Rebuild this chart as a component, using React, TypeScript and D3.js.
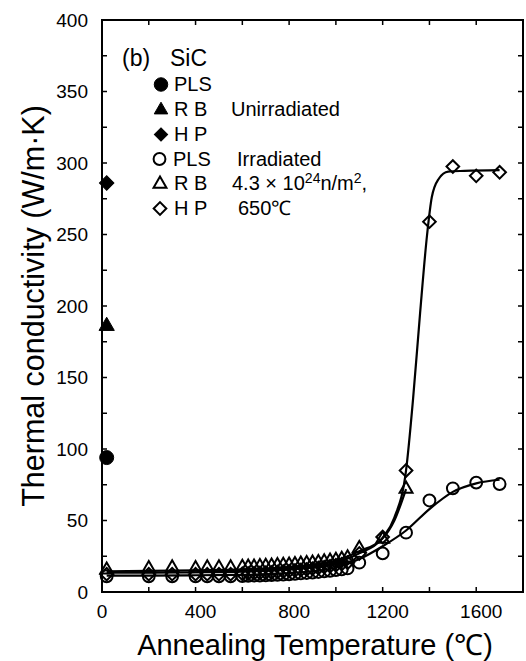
import React from 'react';
import * as d3 from 'd3';

// ---------- data ----------
const xTickLabels = [0, 400, 800, 1200, 1600];
const xMinorTicks = [0, 200, 400, 600, 800, 1000, 1200, 1400, 1600, 1800];
const yTickLabels = [0, 50, 100, 150, 200, 250, 300, 350, 400];
const yMinorTicks = [0, 25, 50, 75, 100, 125, 150, 175, 200, 225, 250, 275, 300, 325, 350, 375, 400];

// Unirradiated (room temperature)
const unirradTemp = 20;
const unirradPLS = 94;
const unirradRB = 186;
const unirradHP = 286;

// Irradiated, after annealing
const lowTemps = [20, 200, 300, 400, 450, 500, 550, 600, 625, 650, 675, 700, 725, 750, 775, 800, 825, 850, 875, 900, 925, 950, 975, 1000, 1025, 1050];

const plsTemps = [...lowTemps, 1100, 1200, 1300, 1400, 1500, 1600, 1700];
const plsValues = [11, 11, 11, 11, 11, 11, 11, 11.2, 11.3, 11.4, 11.5, 11.6, 11.8, 12, 12.2, 12.4, 12.7, 13, 13.3, 13.6, 14, 14.4, 14.8, 15.3, 15.8, 16.5, 20.5, 27, 41.5, 64, 72.5, 76.5, 75.5];

const rbTemps = [...lowTemps, 1100, 1200, 1300];
const rbValues = [15.5, 16.5, 17, 16.5, 17, 17, 17, 17.3, 17.5, 17.5, 17.8, 18, 18.2, 18.5, 18.8, 19, 19.3, 19.6, 20, 20.3, 20.7, 21.2, 21.7, 22.3, 23, 24, 30.5, 37, 72];

const hpTemps = [...lowTemps, 1100, 1200, 1300, 1400, 1500, 1600, 1700];
const hpValues = [12.5, 12.5, 12.5, 12.5, 12.5, 12.5, 12.5, 12.8, 13, 13.1, 13.3, 13.5, 13.7, 14, 14.3, 14.6, 15, 15.4, 15.8, 16.3, 16.8, 17.4, 18, 18.7, 19.5, 20.5, 27, 38.5, 85, 259, 297.5, 291, 293.5];

// Fitted curves
const plsCurveT = [20, 200, 400, 600, 700, 800, 900, 1000, 1100, 1200, 1300, 1400, 1500, 1600, 1700];
const plsCurveV = [11.5, 11.5, 11.7, 12, 12.5, 13.3, 14.5, 17, 23, 32, 43, 58, 70, 76, 78.5];
const rbCurveT = [20, 200, 400, 600, 800, 900, 1000, 1100, 1200, 1250, 1300];
const rbCurveV = [14.5, 14.8, 15.2, 15.8, 17.5, 19, 22, 28.5, 37.5, 50, 72];
const hpCurveT = [20, 200, 400, 600, 800, 900, 1000, 1100, 1200, 1250, 1300, 1330, 1360, 1390, 1410, 1440, 1480, 1550, 1700];
const hpCurveV = [13.5, 13.5, 13.8, 14.3, 15.8, 17.5, 20.5, 27, 38, 52, 85, 135, 195, 250, 276, 289, 294, 294.5, 295];

const FONT = "'Liberation Sans', Arial, Helvetica, sans-serif";

const W = 526;
const H = 661;
const L = 102, R = 523, T = 20, B = 592;

const x = d3.scaleLinear().domain([0, 1800]).range([L, R]);
const y = d3.scaleLinear().domain([0, 400]).range([B, T]);

const circlePath = (area: number) => d3.symbol().type(d3.symbolCircle).size(area)() as string;
const triPath = (area: number) => d3.symbol().type(d3.symbolTriangle).size(area)() as string;
const sqPath = (area: number) => d3.symbol().type(d3.symbolSquare).size(area)() as string;

type Kind = 'circle' | 'triangle' | 'diamond';

function Marker({ kind, cx, cy, filled, scale = 1 }: { kind: Kind; cx: number; cy: number; filled: boolean; scale?: number }) {
  let d = '';
  let rot = 0;
  if (kind === 'circle') d = circlePath(110 * scale);
  else if (kind === 'triangle') d = triPath(72 * scale);
  else { d = sqPath(80 * scale); rot = 45; }
  return (
    <path
      d={d}
      transform={`translate(${cx},${cy}) rotate(${rot})`}
      fill={filled ? '#000' : 'none'}
      stroke="#000"
      strokeWidth={filled ? 1 : 2}
    />
  );
}

export default function App() {
  const line = d3.line<[number, number]>().x(d => x(d[0])).y(d => y(d[1])).curve(d3.curveMonotoneX);
  const zip = (a: number[], b: number[]) => a.map((t, i) => [t, b[i]] as [number, number]);

  const legendRows = [91, 116, 141, 165.5, 190, 215];
  const legendSymX = 161;
  const legendTextX = 174;

  return (
    <svg width={W} height={H} style={{ position: 'absolute', left: 0, top: 0, background: '#fff' }} fontFamily={FONT}>
      <rect x={0} y={0} width={W} height={H} fill="#fff" />

      {/* curves */}
      <path d={line(zip(plsCurveT, plsCurveV)) as string} fill="none" stroke="#000" strokeWidth={2.2} />
      <path d={line(zip(rbCurveT, rbCurveV)) as string} fill="none" stroke="#000" strokeWidth={2.2} />
      <path d={line(zip(hpCurveT, hpCurveV)) as string} fill="none" stroke="#000" strokeWidth={2.2} />

      {/* irradiated markers */}
      {rbTemps.map((t, i) => <Marker key={'rb' + i} kind="triangle" cx={x(t)} cy={y(rbValues[i])} filled={false} />)}
      {hpTemps.map((t, i) => <Marker key={'hp' + i} kind="diamond" cx={x(t)} cy={y(hpValues[i])} filled={false} />)}
      {plsTemps.map((t, i) => <Marker key={'pls' + i} kind="circle" cx={x(t)} cy={y(plsValues[i])} filled={false} />)}

      {/* unirradiated markers */}
      <Marker kind="circle" cx={x(unirradTemp)} cy={y(unirradPLS)} filled scale={1.4} />
      <Marker kind="triangle" cx={x(unirradTemp)} cy={y(unirradRB)} filled scale={1.4} />
      <Marker kind="diamond" cx={x(unirradTemp)} cy={y(unirradHP)} filled scale={1.3} />

      {/* frame */}
      <rect x={L} y={T} width={R - L} height={B - T} fill="none" stroke="#000" strokeWidth={2} />

      {/* ticks */}
      {xMinorTicks.map(t => (
        <g key={'xt' + t}>
          <line x1={x(t)} x2={x(t)} y1={B} y2={B - 5} stroke="#000" strokeWidth={1.5} />
          <line x1={x(t)} x2={x(t)} y1={T} y2={T + 5} stroke="#000" strokeWidth={1.5} />
        </g>
      ))}
      {yMinorTicks.map(v => (
        <g key={'yt' + v}>
          <line x1={L} x2={L + 5} y1={y(v)} y2={y(v)} stroke="#000" strokeWidth={1.5} />
          <line x1={R} x2={R - 5} y1={y(v)} y2={y(v)} stroke="#000" strokeWidth={1.5} />
        </g>
      ))}

      {/* tick labels */}
      {xTickLabels.map(t => (
        <text key={'xl' + t} x={x(t) + (t === 0 ? 0 : 5)} y={618} fontSize={19} textAnchor="middle">{t}</text>
      ))}
      {yTickLabels.map(v => (
        <text key={'yl' + v} x={88} y={y(v)} dy="0.35em" fontSize={19} textAnchor="end">{v}</text>
      ))}

      {/* axis titles */}
      <text x={315} y={655} fontSize={29} textAnchor="middle">Annealing Temperature (℃)</text>
      <text transform={`translate(44,${(T + B) / 2}) rotate(-90)`} fontSize={30.5} textAnchor="middle">Thermal conductivity (W/m·K)</text>

      {/* legend */}
      <text x={122} y={66} fontSize={23}>(b)</text>
      <text x={170} y={66} fontSize={23}>SiC</text>

      <Marker kind="circle" cx={legendSymX} cy={legendRows[0] - 6.5} filled scale={1.3} />
      <Marker kind="triangle" cx={legendSymX} cy={legendRows[1] - 6} filled scale={1.1} />
      <Marker kind="diamond" cx={legendSymX} cy={legendRows[2] - 6.5} filled scale={1.1} />
      <Marker kind="circle" cx={legendSymX - 1.5} cy={legendRows[3] - 6.5} filled={false} />
      <Marker kind="triangle" cx={legendSymX - 1} cy={legendRows[4] - 6} filled={false} />
      <Marker kind="diamond" cx={legendSymX - 1} cy={legendRows[5] - 6.5} filled={false} />

      <text x={legendTextX} y={legendRows[0]} fontSize={20}>PLS</text>
      <text x={legendTextX} y={legendRows[1]} fontSize={20}>R B</text>
      <text x={legendTextX} y={legendRows[2]} fontSize={20}>H P</text>
      <text x={legendTextX - 1} y={legendRows[3]} fontSize={20}>PLS</text>
      <text x={legendTextX} y={legendRows[4]} fontSize={20}>R B</text>
      <text x={legendTextX} y={legendRows[5]} fontSize={20}>H P</text>

      <text x={231} y={legendRows[1]} fontSize={20}>Unirradiated</text>
      <text x={237} y={legendRows[3]} fontSize={20}>Irradiated</text>
      <text x={232} y={legendRows[4]} fontSize={20}>
        4.3 × 10<tspan dy={-7} fontSize={14}>24</tspan><tspan dy={7}>n/m</tspan><tspan dy={-7} fontSize={14}>2</tspan><tspan dy={7}>,</tspan>
      </text>
      <text x={238} y={legendRows[5]} fontSize={20}>650℃</text>
    </svg>
  );
}
